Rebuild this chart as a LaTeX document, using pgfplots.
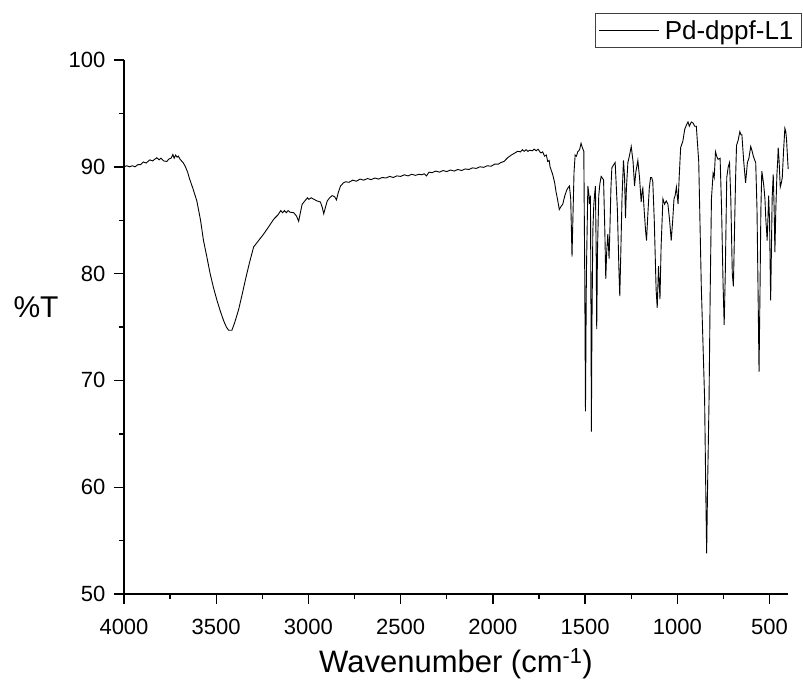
\documentclass[border=0pt]{standalone}
\usepackage{fontspec}
\setmainfont{Liberation Sans}
\usepackage{graphicx}
\usepackage{pgfplots}
\pgfplotsset{compat=1.18}
\pgfplotstableread{
x y
4000 90.0
3985 90.1
3970 90.0
3955 90.1
3940 90.0
3925 90.2
3910 90.2
3895 90.45
3880 90.35
3860 90.65
3845 90.55
3822 90.85
3810 90.65
3800 90.8
3785 90.55
3768 90.5
3755 90.75
3745 90.8
3735 91.15
3728 90.8
3720 91.1
3712 90.9
3705 91.0
3696 90.7
3680 90.4
3668 90.05
3655 89.5
3645 88.9
3625 87.9
3605 86.8
3585 85.0
3569 83.1
3550 81.5
3533 80.0
3515 78.7
3496 77.5
3478 76.5
3460 75.6
3445 75.0
3433 74.7
3415 74.7
3400 75.4
3379 76.6
3360 78.0
3342 79.4
3320 81.0
3297 82.5
3270 83.1
3243 83.7
3215 84.4
3188 85.1
3165 85.5
3150 85.9
3140 85.7
3130 85.9
3120 85.7
3110 85.9
3100 85.75
3080 85.7
3065 85.4
3053 84.9
3045 85.6
3034 86.5
3015 86.9
3005 87.1
2998 86.95
2985 87.1
2975 87.0
2953 86.8
2935 86.7
2925 86.2
2917 85.6
2908 86.2
2898 86.8
2885 87.1
2871 87.3
2858 87.2
2848 86.9
2838 87.6
2826 88.2
2810 88.5
2799 88.6
2780 88.55
2760 88.75
2740 88.65
2720 88.85
2700 88.75
2680 88.9
2660 88.8
2640 88.95
2620 88.85
2600 89.0
2580 88.95
2560 89.1
2540 89.0
2520 89.15
2500 89.1
2480 89.25
2460 89.15
2440 89.3
2420 89.2
2400 89.3
2385 89.25
2373 89.35
2360 89.15
2346 89.5
2330 89.45
2310 89.6
2290 89.5
2270 89.65
2250 89.55
2230 89.7
2210 89.6
2190 89.75
2170 89.65
2150 89.8
2130 89.75
2110 89.9
2090 89.85
2070 90.0
2050 89.95
2030 90.1
2010 90.05
1990 90.25
1970 90.25
1957 90.4
1940 90.5
1920 90.85
1900 91.1
1880 91.3
1866 91.45
1850 91.4
1840 91.6
1830 91.45
1820 91.6
1810 91.45
1800 91.55
1785 91.5
1776 91.65
1765 91.5
1755 91.65
1745 91.4
1739 91.3
1730 91.4
1720 91.0
1710 91.1
1703 90.5
1695 90.6
1690 90.0
1676 89.3
1665 88.5
1658 87.7
1650 87.0
1640 86.0
1630 86.3
1621 86.5
1610 87.3
1600 87.8
1594 88.0
1585 88.2
1578 87.0
1571 81.6
1565 86.0
1560 89.5
1554 91.1
1547 91.0
1540 91.4
1530 91.6
1522 92.2
1515 91.8
1507 91.45
1502 80.0
1498 67.1
1493 80.0
1485 88.2
1480 87.5
1476 86.5
1471 87.3
1468 76.0
1466 65.2
1463 75.0
1458 84.0
1453 86.4
1448 87.5
1444 88.2
1440 82.0
1437 74.8
1433 82.0
1426 87.3
1420 88.4
1413 89.1
1405 88.9
1400 88.8
1393 84.0
1388 79.5
1383 82.0
1377 83.7
1373 82.5
1370 81.4
1365 84.5
1360 88.0
1355 89.9
1345 90.2
1337 90.4
1325 86.0
1316 80.0
1312 77.9
1307 81.5
1300 87.0
1292 90.6
1286 89.0
1281 85.2
1276 88.0
1268 90.4
1260 91.0
1250 91.9
1240 90.5
1232 88.2
1225 89.5
1214 90.6
1205 89.0
1196 86.7
1190 87.8
1187 88.0
1180 86.0
1172 84.0
1167 83.1
1160 85.5
1152 88.0
1145 89.0
1139 89.0
1133 88.6
1125 85.0
1115 78.5
1109 76.8
1102 80.7
1094 77.6
1088 82.5
1078 87.0
1069 86.5
1060 86.8
1051 86.5
1042 85.0
1033 83.1
1025 85.0
1018 87.0
1012 87.3
1005 88.1
996 86.5
990 89.0
982 91.8
970 92.4
960 93.5
951 93.9
942 94.2
935 93.8
924 94.2
915 94.1
906 93.8
897 93.8
884 90.5
870 78.8
852 68.2
846 60.0
841 53.8
836 60.0
828 68.2
822 78.0
815 87.0
806 89.4
800 89.0
793 91.4
785 90.9
779 90.7
768 90.8
760 86.0
752 79.0
746 75.2
740 80.0
732 89.0
724 90.0
717 90.4
710 87.0
702 80.0
696 78.8
690 84.0
684 89.0
679 92.0
670 92.5
661 93.3
655 93.0
650 93.0
640 90.5
630 88.5
620 90.4
612 90.8
602 91.9
595 91.5
588 91.0
580 90.6
575 90.4
568 86.0
562 78.0
557 70.8
552 78.0
547 86.0
542 89.6
537 89.0
531 88.2
525 87.0
520 85.0
516 84.0
513 83.1
508 85.5
505 87.3
500 85.0
497 81.0
494 77.5
490 82.0
486 87.0
480 89.3
475 86.0
471 82.0
466 86.0
460 89.3
456 90.5
453 91.8
448 90.5
442 88.1
436 88.5
431 89.0
424 91.5
417 93.6
412 93.3
408 92.6
403 91.0
399 89.8
}\spectrum
\begin{document}
\begin{tikzpicture}
\begin{axis}[
  scale only axis, width=664pt, height=534pt,
  x dir=reverse, xmin=400, xmax=4000, ymin=50, ymax=100,
  axis lines=left, axis line style={-, line width=1.6pt},
  xtick={500,1000,...,4000}, minor x tick num=1,
  ytick={50,60,...,100}, minor y tick num=1,
  tick align=outside, major tick length=10pt, minor tick length=5pt,
  every tick/.style={black, line width=1.4pt},
  tick label style={font=\fontsize{22}{22}\selectfont},
  xticklabel style={yshift=-12pt},
  yticklabel style={xshift=-5pt},
  /pgf/number format/assume math mode=true,
  /pgf/number format/1000 sep={},
  xlabel={Wavenumber (cm\textsuperscript{-1})},
  ylabel={\%T},
  every axis x label/.style={at={(axis description cs:0.5,0)}, anchor=center, yshift=-70pt, font=\fontsize{31}{31}\selectfont},
  every axis y label/.style={at={(axis description cs:-0.1325,0.537)}, anchor=center, font=\fontsize{30}{30}\selectfont},
  legend style={at={(axis description cs:1.021,1.0886)}, anchor=north east, draw=darkgray, line width=1pt, fill=white, font=\fontsize{26}{26}\selectfont, inner xsep=3pt, inner ysep=5pt, nodes={inner xsep=5pt}},
  legend image code/.code={\draw[#1, line width=0.9pt] (0pt,0pt) -- (60pt,0pt);},
  legend cell align=left,
  clip=false,
]
\addplot[black, line width=0.9pt] table[x=x, y=y] {\spectrum};
\addlegendentry{Pd-dppf-L1}
\end{axis}
\pgfresetboundingbox
\useasboundingbox (-124pt,-97pt) rectangle (679pt,594pt);
\end{tikzpicture}
\end{document}
